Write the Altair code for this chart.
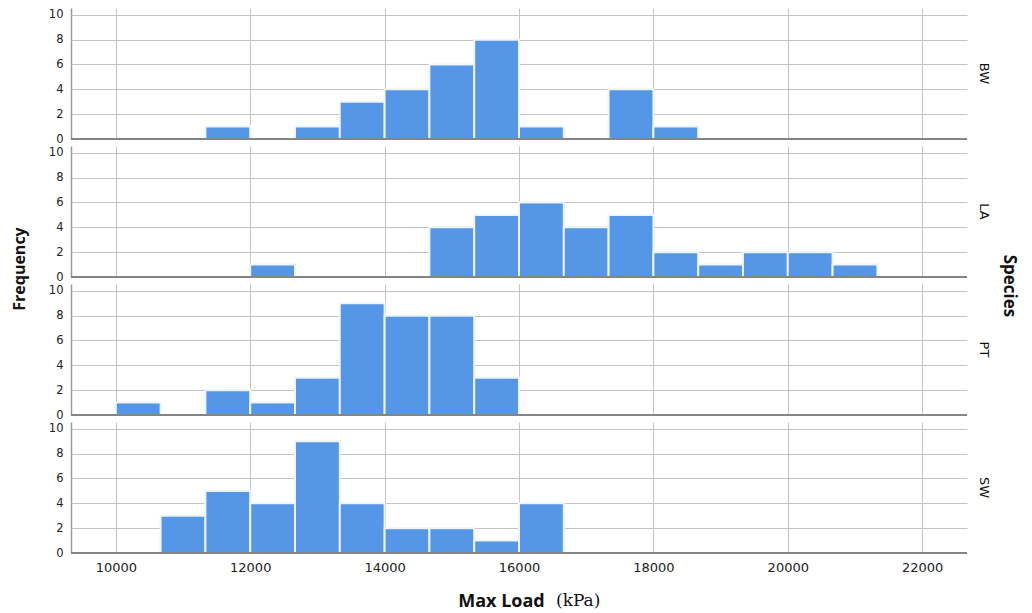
import altair as alt
import pandas as pd

species = ["BW", "LA", "PT", "SW"]
bin_width = 2000 / 3
bin_starts = [10000 + i * bin_width for i in range(18)]

bw_counts = [0, 0, 1, 0, 1, 3, 4, 6, 8, 1, 0, 4, 1, 0, 0, 0, 0, 0]
la_counts = [0, 0, 0, 1, 0, 0, 0, 4, 5, 6, 4, 5, 2, 1, 2, 2, 1, 0]
pt_counts = [1, 0, 2, 1, 3, 9, 8, 8, 3, 0, 0, 0, 0, 0, 0, 0, 0, 0]
sw_counts = [0, 3, 5, 4, 9, 4, 2, 2, 1, 4, 0, 0, 0, 0, 0, 0, 0, 0]

x_ticks = [10000, 12000, 14000, 16000, 18000, 20000, 22000]
y_ticks = [0, 2, 4, 6, 8, 10]

rows = []
for sp, counts in zip(species, [bw_counts, la_counts, pt_counts, sw_counts]):
    for i, c in enumerate(counts):
        rows.append({"Species": sp, "bin": i, "start": bin_starts[i],
                     "end": bin_starts[i] + bin_width, "count": c})
df = pd.DataFrame(rows)

W, H = 896, 131
LABEL_FONT = "DejaVu Sans"
TITLE_FONT = "Open Sans"

xscale = alt.Scale(domain=[9333, 22667], nice=False, zero=False)
yscale = alt.Scale(domain=[0, 10.55], nice=False, zero=True)

y_axis = alt.Axis(values=y_ticks, title=None, grid=True, ticks=False,
                  domain=True, domainColor="#999", domainWidth=1.5,
                  gridColor="#c4c4c4", gridWidth=1, labelOverlap=False,
                  labelFont=LABEL_FONT, labelFontSize=11.5, labelColor="#222",
                  labelPadding=8)

bars = alt.Chart().mark_bar(
    color="#5596e6", stroke="#eef4fc", strokeWidth=2
).encode(
    x=alt.X("start:Q", scale=xscale,
            axis=alt.Axis(values=x_ticks, title="Max Load", grid=True, ticks=False,
                          domain=False, gridColor="#c4c4c4", gridWidth=1,
                          labelFont=LABEL_FONT, labelFontSize=13, labelColor="#222",
                          labelPadding=8, format="d", labelOverlap=False,
                          titleFont=TITLE_FONT, titleFontSize=18, titleFontWeight="bold",
                          titleColor="#111", titleX=430, titleY=53,
                          titleBaseline="alphabetic", titleAlign="center")),
    x2="end:Q",
    y=alt.Y("count:Q", scale=yscale, stack=None, axis=y_axis),
    y2=alt.datum(0),
).transform_filter("datum.count > 0")

baseline = alt.Chart().mark_rule(color="#858585", strokeWidth=2).encode(
    y=alt.YDatum(0, scale=yscale, axis=y_axis)
)

unit = alt.Chart().mark_text(
    text="(kPa)", font="DejaVu Serif", fontSize=17, align="left",
    baseline="alphabetic", color="#111"
).encode(
    x=alt.value(485), y=alt.value(H + 53)
).transform_filter("datum.Species == 'SW' && datum.bin == 0")

species_title = alt.Chart().mark_text(
    text="Species", font=TITLE_FONT, fontSize=17, fontWeight="bold", angle=90,
    align="center", baseline="middle", color="#111"
).encode(
    x=alt.value(W + 42), y=alt.value(H + 9)
).transform_filter("datum.Species == 'LA' && datum.bin == 0")

layered = alt.layer(bars, baseline, unit, species_title, data=df).properties(width=W, height=H)

chart = layered.facet(
    row=alt.Row("Species:N", sort=species, title=None,
                header=alt.Header(labelOrient="right", labelAngle=90, labelFont=LABEL_FONT,
                                  labelFontSize=13, labelColor="#111", labelPadding=10)),
    spacing=7,
    bounds="flush",
).properties(
    title=alt.TitleParams("Frequency", orient="left", anchor="middle", font=TITLE_FONT,
                          fontSize=16, fontWeight="bold", color="#111", offset=20, dx=40),
    padding={"left": 4, "top": 0, "right": 6, "bottom": 4},
).configure_view(stroke=None)

chart.save("out.html", embed_options={"renderer": "svg", "actions": False})
